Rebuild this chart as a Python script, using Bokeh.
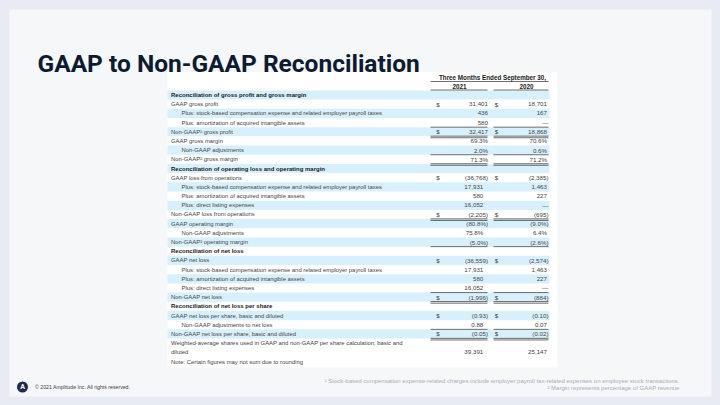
from bokeh.plotting import figure
from bokeh.models import Range1d
from bokeh.core.properties import value
from bokeh.embed import file_html
from bokeh.resources import INLINE

# ---------------- data ----------------
title_text = "GAAP to Non-GAAP Reconciliation"
period_header = "Three Months Ended September 30,"
years = ["2021", "2020"]

row_labels = [
    "Reconciliation of gross profit and gross margin",
    "GAAP gross profit",
    "Plus: stock-based compensation expense and related employer payroll taxes",
    "Plus: amortization of acquired intangible assets",
    "Non-GAAP\u00b9 gross profit",
    "GAAP gross margin",
    "Non-GAAP adjustments",
    "Non-GAAP\u00b2 gross margin",
    "Reconciliation of operating loss and operating margin",
    "GAAP loss from operations",
    "Plus: stock-based compensation expense and related employer payroll taxes",
    "Plus: amortization of acquired intangible assets",
    "Plus: direct listing expenses",
    "Non-GAAP loss from operations",
    "GAAP operating margin",
    "Non-GAAP adjustments",
    "Non-GAAP\u00b2 operating margin",
    "Reconciliation of net loss",
    "GAAP net loss",
    "Plus: stock-based compensation expense and related employer payroll taxes",
    "Plus: amortization of acquired intangible assets",
    "Plus: direct listing expenses",
    "Non-GAAP net loss",
    "Reconciliation of net loss per share",
    "GAAP net loss per share, basic and diluted",
    "Non-GAAP adjustments to net loss",
    "Non-GAAP net loss per share, basic and diluted",
    "Weighted-average shares used in GAAP and non-GAAP per share calculation, basic and\ndiluted",
    "Note: Certain figures may not sum due to rounding",
]
row_kind = [
    "section", "line", "indent", "indent", "line", "line", "indent", "line",
    "section", "line", "indent", "indent", "indent", "line", "line", "indent", "line",
    "section", "line", "indent", "indent", "indent", "line",
    "section", "line", "indent", "line", "line", "note",
]
val_2021 = [
    "", "31,401", "436", "580", "32,417", "69.3%", "2.0%", "71.3%",
    "", "(36,768)", "17,931", "580", "16,052", "(2,205)", "(80.8%)", "75.8%", "(5.0%)",
    "", "(36,559)", "17,931", "580", "16,052", "(1,996)",
    "", "(0.93)", "0.88", "(0.05)", "39,391", "",
]
val_2020 = [
    "", "18,701", "167", "\u2014", "18,868", "70.6%", "0.6%", "71.2%",
    "", "(2,385)", "1,463", "227", "\u2014", "(695)", "(9.0%)", "6.4%", "(2.6%)",
    "", "(2,574)", "1,463", "227", "\u2014", "(884)",
    "", "(0.10)", "0.07", "(0.02)", "25,147", "",
]
dollar_rows = [1, 4, 9, 13, 18, 22, 24, 26]
rule_above = [4, 7, 22, 26]
rule_below = [16]
double_below = [4, 7, 13, 22, 26]

footnotes = [
    "\u00b9 Stock-based compensation expense-related charges include employer payroll tax-related expenses on employee stock transactions.",
    "\u00b2 Margin represents percentage of GAAP revenue",
]
copyright_text = "\u00a9 2021 Amplitude Inc.  All rights reserved."

# ---------------- layout helpers ----------------
W, H = 720, 405
Y0, PITCH = 94.5, 9.19
FONT = value("Liberation Sans")

def Y(slot):
    return Y0 + slot * PITCH

p = figure(width=W, height=H, output_backend="svg", toolbar_location=None,
           x_range=Range1d(0, W), y_range=Range1d(H, 0),
           x_axis_type=None, y_axis_type=None, min_border=0)
p.grid.visible = False
p.outline_line_color = None
p.background_fill_color = "#e8ebf3"
p.border_fill_color = "#e8ebf3"

# slide card and table background
p.quad(left=[9], right=[711], top=[9], bottom=[396], fill_color="#f5f7f8", line_color=None)
p.quad(left=[167], right=[557], top=[71.5], bottom=[367], fill_color="#ffffff", line_color=None)

# title
p.text(x=[37], y=[62.5], text=[title_text], text_font=value("Roboto"), text_font_style="bold",
       text_font_size=value("24.5px"), text_color="#0d1a30", text_baseline="alphabetic", text_align="left")

# slots
slots = []
s = 0
for lab in row_labels:
    slots.append(s)
    s += lab.count("\n") + 1

# bands
bl, br, bt, bb = [], [], [], []
for i, lab in enumerate(row_labels):
    if row_kind[i] == "note" or i % 2 == 1:
        continue
    n = lab.count("\n") + 1
    bl.append(167); br.append(549)
    bt.append(Y(slots[i]) - PITCH / 2); bb.append(Y(slots[i] + n - 1) + PITCH / 2)
p.quad(left=bl, right=br, top=bt, bottom=bb, fill_color="#d8f0fb", line_color=None)

# labels
lx, ly, lt, bx, by, btxt = [], [], [], [], [], []
for i, lab in enumerate(row_labels):
    for j, line in enumerate(lab.split("\n")):
        x = 181 if row_kind[i] == "indent" else 170.5
        if row_kind[i] == "section":
            bx.append(x); by.append(Y(slots[i] + j)); btxt.append(line)
        else:
            lx.append(x); ly.append(Y(slots[i] + j)); lt.append(line)
p.text(x=lx, y=ly, text=lt, text_font=FONT, text_font_size=value("5.9px"),
       text_color="#454545", text_baseline="middle", text_align="left")
p.text(x=bx, y=by, text=btxt, text_font=FONT, text_font_style="bold",
       text_font_size=value("6px"), text_color="#202020", text_baseline="middle", text_align="left")

# values
vx, vy, vt = [], [], []
for i, lab in enumerate(row_labels):
    yv = Y(slots[i] + lab.count("\n"))
    a, b = val_2021[i], val_2020[i]
    if a:
        vx.append(487.5 if (a.endswith(")") or i < 8) else 482.8); vy.append(yv); vt.append(a)
    if b:
        vx.append(548 if (b.endswith(")") or b == "\u2014") else 546.5); vy.append(yv); vt.append(b)
p.text(x=vx, y=vy, text=vt, text_font=FONT, text_font_size=value("6.2px"),
       text_color="#454545", text_baseline="middle", text_align="right")

dx, dy = [], []
for i in dollar_rows:
    dx += [437.5, 496]; dy += [Y(slots[i]), Y(slots[i])]
p.text(x=dx, y=dy, text=["$"] * len(dx), text_font=FONT, text_font_size=value("6.2px"),
       text_color="#454545", text_baseline="middle", text_align="center")

# header
p.text(x=[492], y=[Y(-2) + 1.3], text=[period_header], text_font=FONT,
       text_font_style="bold", text_font_size=value("6.3px"), text_color="#202020",
       text_baseline="middle", text_align="center")
p.text(x=[459, 526], y=[Y(-1) + 0.3] * 2, text=years, text_font=FONT,
       text_font_style="bold", text_font_size=value("6.3px"), text_color="#202020",
       text_baseline="middle", text_align="center")

cols = [(430, 487), (493, 548)]
seg_x0, seg_x1, seg_y = [], [], []
def hline(y, c):
    seg_x0.append(c[0]); seg_x1.append(c[1]); seg_y.append(y)
hline(81, (430, 548))
for c in cols:
    hline(89.5, c)
for i in rule_above:
    for c in cols:
        hline(Y(slots[i]) - PITCH / 2, c)
for i in rule_below:
    for c in cols:
        hline(Y(slots[i]) + PITCH / 2, c)
for i in double_below:
    for c in cols:
        hline(Y(slots[i]) + PITCH / 2 - 0.2, c)
        hline(Y(slots[i]) + PITCH / 2 + 1.4, c)
p.segment(x0=seg_x0, x1=seg_x1, y0=seg_y, y1=seg_y, line_color="#4a4a4a", line_width=0.8)

# footer
p.scatter(x=[22], y=[386.5], size=11, marker="circle", fill_color="#1f2b4d", line_color=None)
p.text(x=[22], y=[386.8], text=["A"], text_font=value("Roboto"), text_font_style="bold",
       text_font_size=value("7px"), text_color="#ffffff", text_baseline="middle", text_align="center")
p.text(x=[34.5], y=[386.7], text=[copyright_text], text_font=FONT,
       text_font_size=value("5.2px"), text_color="#3a3f4a", text_baseline="middle", text_align="left")
p.text(x=[679, 679], y=[380.3, 387.7], text=footnotes, text_font=FONT,
       text_font_size=value("6px"), text_color="#a7afb8", text_baseline="middle", text_align="right")

html = file_html(p, INLINE)
html = html.replace("<head>", "<head><style>body{background:#e8ebf3;}</style>", 1)
open("out.html", "w").write(html)
